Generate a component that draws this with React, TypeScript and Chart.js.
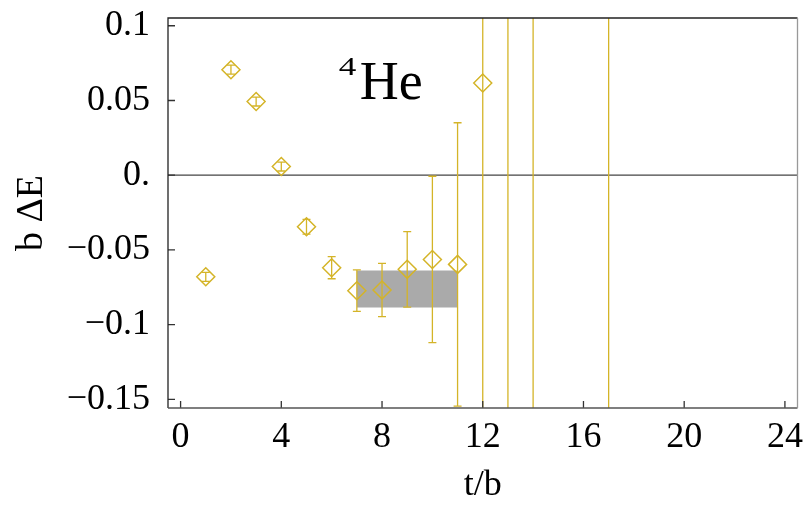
import { useEffect, useRef } from "react";
import { Chart, registerables } from "chart.js";

Chart.register(...registerables);

// Effective energy shift of 4He per time slice, with statistical errors
const timeSlices = [1, 2, 3, 4, 5, 6, 7, 8, 9, 10, 11, 12, 13, 14, 17];
const energyShift = [
  -0.068, 0.0706, 0.0493, 0.0058, -0.0345, -0.0619, -0.0773, -0.0768, -0.063,
  -0.0564, -0.0597, 0.0617, 0.21, -0.32, 0.45,
];
const energyError = [
  0.003, 0.003, 0.003, 0.003, 0.005, 0.0074, 0.0139, 0.0178, 0.0253, 0.0557,
  0.0948, 0.3, 0.55, 0.75, 1.2,
];

// Plateau fit: time range and one-sigma band
const fitRange = [7, 11];
const fitBand = [-0.0885, -0.0637];

const xTicks = [0, 4, 8, 12, 16, 20, 24];
const yTicks = [-0.15, -0.1, -0.05, 0, 0.05, 0.1];
const yTickLabels = ["−0.15", "−0.1", "−0.05", "0.", "0.05", "0.1"];

const GOLD = "rgb(212, 180, 40)";
const SERIF = "'Liberation Serif', 'Times New Roman', serif";
const FONT_SIZE = 36;

const zeroLine = {
  id: "zeroLine",
  beforeDatasetsDraw(chart: any) {
    const { ctx, chartArea, scales } = chart;
    const py = scales.y.getPixelForValue(0);
    ctx.save();
    ctx.strokeStyle = "#444";
    ctx.lineWidth = 1.2;
    ctx.beginPath();
    ctx.moveTo(chartArea.left, py);
    ctx.lineTo(chartArea.right, py);
    ctx.stroke();
    ctx.restore();
  },
};

const errorBars = {
  id: "errorBars",
  afterDatasetsDraw(chart: any) {
    const { ctx, chartArea, scales } = chart;
    const { x, y } = scales;
    ctx.save();
    ctx.beginPath();
    ctx.rect(
      chartArea.left,
      chartArea.top,
      chartArea.right - chartArea.left,
      chartArea.bottom - chartArea.top
    );
    ctx.clip();
    ctx.strokeStyle = GOLD;
    ctx.lineWidth = 1.3;
    timeSlices.forEach((t, i) => {
      const px = x.getPixelForValue(t);
      const lo = y.getPixelForValue(energyShift[i] - energyError[i]);
      const hi = y.getPixelForValue(energyShift[i] + energyError[i]);
      ctx.beginPath();
      ctx.moveTo(px, lo);
      ctx.lineTo(px, hi);
      ctx.moveTo(px - 4, lo);
      ctx.lineTo(px + 4, lo);
      ctx.moveTo(px - 4, hi);
      ctx.lineTo(px + 4, hi);
      ctx.stroke();
    });
    ctx.restore();
  },
};

const frame = {
  id: "frame",
  afterDraw(chart: any) {
    const { ctx, chartArea, scales } = chart;
    const { left, right, top, bottom } = chartArea;
    ctx.save();
    ctx.lineWidth = 1.3;
    // inward tick marks
    ctx.strokeStyle = "#333";
    ctx.beginPath();
    scales.x.ticks.forEach((tk: any) => {
      const px = scales.x.getPixelForValue(tk.value);
      ctx.moveTo(px, bottom);
      ctx.lineTo(px, bottom - 7);
    });
    scales.y.ticks.forEach((tk: any) => {
      const py = scales.y.getPixelForValue(tk.value);
      ctx.moveTo(left, py);
      ctx.lineTo(left + 7, py);
    });
    ctx.stroke();
    // frame edges
    ctx.strokeStyle = "#222";
    ctx.beginPath();
    ctx.moveTo(left, bottom);
    ctx.lineTo(left, top);
    ctx.lineTo(right, top);
    ctx.stroke();
    ctx.strokeStyle = "#555";
    ctx.beginPath();
    ctx.moveTo(left, bottom);
    ctx.lineTo(right, bottom);
    ctx.stroke();
    ctx.strokeStyle = "#999";
    ctx.beginPath();
    ctx.moveTo(right, top);
    ctx.lineTo(right, bottom);
    ctx.stroke();
    ctx.restore();
  },
};

const nucleusLabel = {
  id: "nucleusLabel",
  afterDraw(chart: any) {
    const { ctx, scales } = chart;
    const px = scales.x.getPixelForValue(6.28);
    const py = scales.y.getPixelForValue(0.0509);
    ctx.save();
    ctx.fillStyle = "#000";
    ctx.textAlign = "left";
    ctx.textBaseline = "alphabetic";
    // mass number as a superscript, slightly widened
    ctx.save();
    ctx.translate(px, py - 24);
    ctx.scale(1.35, 1);
    ctx.font = `26px ${SERIF}`;
    ctx.fillText("4", 0, 0);
    ctx.restore();
    ctx.font = `54px ${SERIF}`;
    ctx.fillText("He", px + 21, py);
    ctx.restore();
  },
};

export default function App() {
  const canvasRef = useRef<HTMLCanvasElement | null>(null);

  useEffect(() => {
    const canvas = canvasRef.current;
    if (!canvas) return;
    const points = timeSlices.map((t, i) => ({ x: t, y: energyShift[i] }));
    const chart = new Chart(canvas, {
      type: "scatter",
      data: {
        datasets: [
          {
            data: points,
            pointStyle: "rectRot",
            pointRadius: 9,
            pointHoverRadius: 9,
            borderColor: GOLD,
            backgroundColor: "rgba(0,0,0,0)",
            borderWidth: 1.5,
            showLine: false,
            order: 0,
          },
          {
            type: "line",
            data: fitRange.map((t) => ({ x: t, y: fitBand[1] })),
            borderWidth: 0,
            borderColor: "rgba(0,0,0,0)",
            pointRadius: 0,
            backgroundColor: "#aaaaaa",
            fill: "+1",
            order: 2,
          } as any,
          {
            type: "line",
            data: fitRange.map((t) => ({ x: t, y: fitBand[0] })),
            borderWidth: 0,
            borderColor: "rgba(0,0,0,0)",
            pointRadius: 0,
            fill: false,
            order: 3,
          } as any,
        ],
      },
      options: {
        animation: false,
        responsive: false,
        maintainAspectRatio: false,
        events: [],
        layout: { padding: { top: 18, right: 9, left: 0, bottom: 0 } },
        plugins: {
          legend: { display: false },
          tooltip: { enabled: false },
        },
        scales: {
          x: {
            type: "linear",
            min: -0.5,
            max: 24.5,
            afterBuildTicks: (s: any) => {
              s.ticks = xTicks.map((v) => ({ value: v }));
            },
            afterFit: (s: any) => {
              s.height = 99;
              s.paddingLeft = 0;
              s.paddingRight = 0;
            },
            grid: { display: false },
            border: { display: false },
            ticks: {
              autoSkip: false,
              maxRotation: 0,
              padding: 0,
              color: "#000",
              font: { family: SERIF, size: FONT_SIZE },
              callback: (v: any) => String(v),
            },
            title: {
              display: true,
              text: "t/b",
              color: "#000",
              font: { family: SERIF, size: FONT_SIZE },
              padding: { top: 0, bottom: 0 },
            },
          },
          y: {
            type: "linear",
            min: -0.1558,
            max: 0.1052,
            afterBuildTicks: (s: any) => {
              s.ticks = yTicks.map((v) => ({ value: v }));
            },
            afterFit: (s: any) => {
              s.width = 168;
              s.paddingTop = 0;
              s.paddingBottom = 0;
            },
            grid: { display: false },
            border: { display: false },
            ticks: {
              autoSkip: false,
              padding: 10,
              color: "#000",
              font: { family: SERIF, size: FONT_SIZE },
              callback: (v: any) => {
                const idx = yTicks.findIndex((t) => Math.abs(t - v) < 1e-9);
                return idx >= 0 ? yTickLabels[idx] : "";
              },
            },
            title: {
              display: true,
              text: "b ΔE",
              color: "#000",
              font: { family: SERIF, size: 38 },
              padding: { top: 9, bottom: 0 },
            },
          },
        },
      },
      plugins: [zeroLine, errorBars, frame, nucleusLabel],
    });
    return () => chart.destroy();
  }, []);

  return (
    <canvas
      ref={canvasRef}
      width={808}
      height={507}
      style={{ position: "absolute", left: 0, top: 0, display: "block" }}
    />
  );
}
